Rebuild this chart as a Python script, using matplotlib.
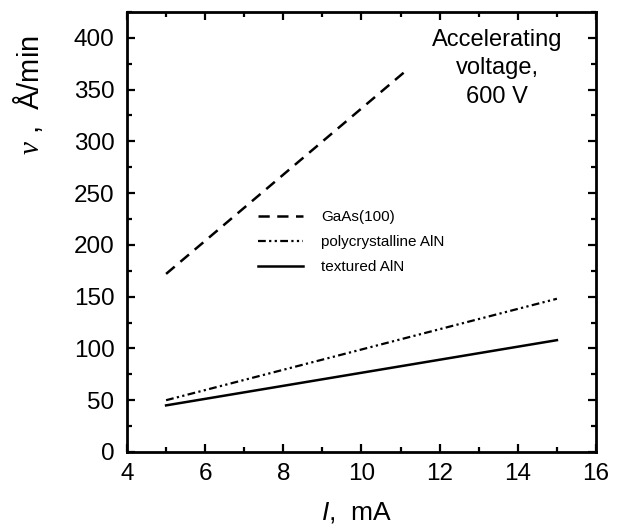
import matplotlib
matplotlib.use("Agg")
import matplotlib.pyplot as plt
from matplotlib.ticker import MultipleLocator

plt.rcParams['font.family'] = ['Liberation Sans', 'DejaVu Sans']
plt.rcParams['mathtext.fontset'] = 'custom'
plt.rcParams['mathtext.it'] = 'Liberation Sans:italic'
plt.rcParams['mathtext.rm'] = 'Liberation Sans'
plt.rcParams['mathtext.cal'] = 'Liberation Serif:italic'

current_gaas = [5, 11.1]
rate_gaas = [172, 367]
current_poly = [5, 15]
rate_poly = [50, 148]
current_text = [5, 15]
rate_text = [45, 108]
labels = ['GaAs(100)', 'polycrystalline AlN', 'textured AlN']

fig = plt.figure(figsize=(6.18, 5.29), dpi=100)
ax = fig.add_axes([0.2055, 0.1456, 0.7589, 0.8318])

ax.plot(current_gaas, rate_gaas, color='black', lw=1.8, dashes=(4.5, 3), label=labels[0])
ax.plot(current_poly, rate_poly, color='black', lw=1.6,
        dashes=(3.5, 1.5, 1, 1.5, 1, 1.5), label=labels[1])
ax.plot(current_text, rate_text, color='black', lw=1.8, label=labels[2])

ax.set_xlim(4, 16)
ax.set_ylim(0, 425)
ax.xaxis.set_major_locator(MultipleLocator(2))
ax.xaxis.set_minor_locator(MultipleLocator(1))
ax.yaxis.set_major_locator(MultipleLocator(50))
ax.yaxis.set_minor_locator(MultipleLocator(25))
ax.tick_params(which='both', direction='in', top=True, right=True, labelsize=17.5, width=1.6)
ax.tick_params(which='major', length=6)
ax.tick_params(which='minor', length=3.5)
ax.tick_params(axis='x', pad=8)
ax.tick_params(axis='y', pad=9)
for s in ax.spines.values():
    s.set_linewidth(2)

ax.set_xlabel(r'$\mathit{I}$,  mA', fontsize=19)
ax.xaxis.set_label_coords(0.49, -0.11)
ax.set_ylabel(r'$\mathcal{v}$ ,  Å/min', fontsize=21)
ax.yaxis.set_label_coords(-0.175, 0.81)

ax.text(0.789, 0.962, 'Accelerating\nvoltage,\n600 V', transform=ax.transAxes,
        ha='center', va='top', fontsize=17, linespacing=1.38)

ax.legend(loc='upper left', bbox_to_anchor=(0.279, 0.55), frameon=False, fontsize=11,
          borderpad=0, borderaxespad=0, handlelength=2.95, handletextpad=1.2,
          labelspacing=0.72)

fig.savefig('out.png', dpi=100)
